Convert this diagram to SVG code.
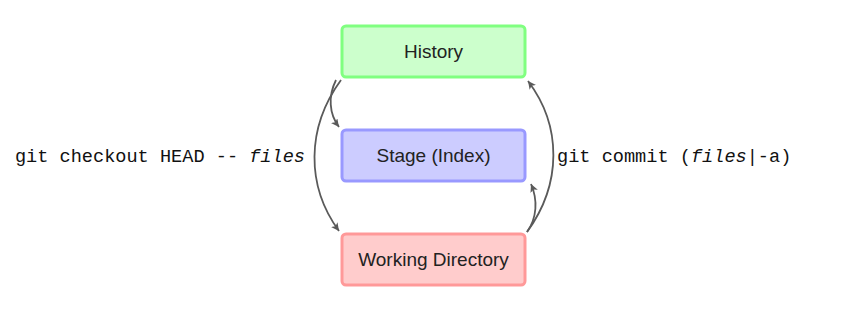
<svg xmlns="http://www.w3.org/2000/svg" width="866" height="312" viewBox="0 0 866 312">
<style>
.box{stroke-width:3}
.lbl{font-family:"Liberation Sans","DejaVu Sans",sans-serif;font-size:19px;fill:#222;text-anchor:middle}
.mono{font-family:"Liberation Mono","DejaVu Sans Mono",monospace;font-size:18.6px;fill:#111}
.conn{fill:none;stroke:#5a5a5a;stroke-width:1.8;marker-end:url(#ah)}
</style>
<defs>
<marker id="ah" markerUnits="userSpaceOnUse" markerWidth="12" markerHeight="10" refX="8" refY="4" orient="auto">
<path d="M0,0 L8,4 L0,8 L2,4 Z" fill="#5a5a5a"/>
</marker>
</defs>
<rect width="866" height="312" fill="#fff"/>
<g id="history">
<rect class="box" x="342" y="26" width="183" height="51" rx="4" fill="#ccffcc" stroke="#80ff80"/>
<text class="lbl" x="433.5" y="58">History</text>
</g>
<g id="stage">
<rect class="box" x="342" y="130" width="183" height="51" rx="4" fill="#ccccff" stroke="#9999ff"/>
<text class="lbl" x="433.5" y="162">Stage (Index)</text>
</g>
<g id="working">
<rect class="box" x="342" y="234" width="183" height="51" rx="4" fill="#ffcccc" stroke="#ff9999"/>
<text class="lbl" x="433.5" y="266">Working Directory</text>
</g>
<g id="connectors">
<path class="conn" d="M341,80 C306,128 306,186 339,231"/>
<path class="conn" d="M336,80 C328,96 329,114 339,127"/>
<path class="conn" d="M527,232 C562,184 562,126 528,81"/>
<path class="conn" d="M527,232 C537,218 538,200 531,184"/>
<text class="mono" x="305" y="162" text-anchor="end">git checkout HEAD -- <tspan font-style="italic">files</tspan></text>
<text class="mono" x="557" y="162">git commit (<tspan font-style="italic">files</tspan>|-a)</text>
</g>
</svg>
